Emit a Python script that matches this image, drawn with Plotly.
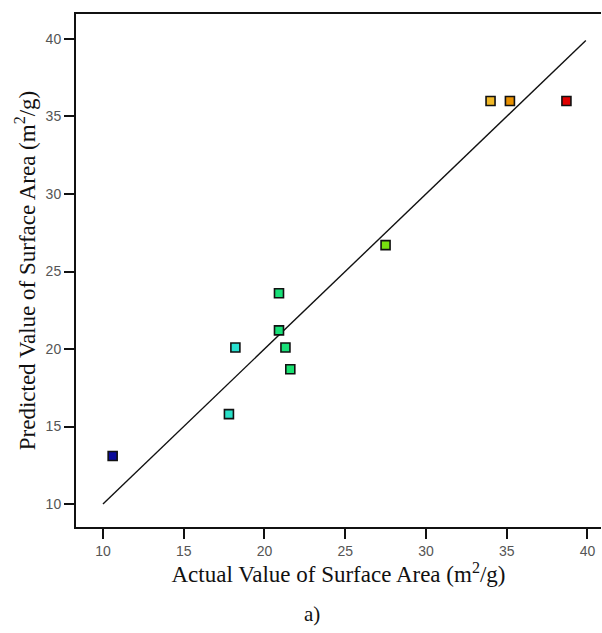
import plotly.graph_objects as go

# Actual vs predicted surface area (m2/g) for each run
actual = [10.6, 17.8, 18.2, 20.9, 20.9, 21.3, 21.6, 27.5, 34.0, 35.2, 38.7]
predicted = [13.1, 15.8, 20.1, 23.6, 21.2, 20.1, 18.7, 26.7, 36.0, 36.0, 36.0]
point_colors = ["#0a0a9a", "#28e0c8", "#28e0d0", "#18e078", "#18e078", "#18e078",
                "#18e070", "#78e010", "#f0b828", "#e89000", "#e00000"]

# Ideal fit line (predicted = actual)
fit_line = [10, 39.9]

x_ticks = [10, 15, 20, 25, 30, 35, 40]
y_ticks = [10, 15, 20, 25, 30, 35, 40]

fig = go.Figure()

fig.add_trace(go.Scatter(
    x=fit_line, y=fit_line, mode="lines",
    line=dict(color="#111111", width=1.4),
    showlegend=False, hoverinfo="skip",
))

fig.add_trace(go.Scatter(
    x=actual, y=predicted, mode="markers",
    marker=dict(symbol="square", size=9, color=point_colors,
                line=dict(color="#111111", width=1.6)),
    showlegend=False,
))

tick_font = dict(family="Liberation Sans Narrow, Arial Narrow, Liberation Sans, Arial",
                 size=14, color="#555555")
title_font = dict(family="Liberation Serif, Times New Roman, serif", size=23, color="#111111")

fig.update_xaxes(
    range=[8.33, 40.84], tickvals=x_ticks, ticks="outside", ticklen=10, tickwidth=2,
    tickcolor="#111111", showline=True, linecolor="#111111", linewidth=2, mirror=True,
    showgrid=False, zeroline=False, tickfont=tick_font,
    title=dict(text="Actual Value of Surface Area (m<sup>2</sup>/g)", font=title_font, standoff=4),
)
fig.update_yaxes(
    range=[8.52, 41.61], tickvals=y_ticks, ticks="outside", ticklen=10, tickwidth=2,
    tickcolor="#111111", showline=True, linecolor="#111111", linewidth=2, mirror=False,
    showgrid=False, zeroline=False, tickfont=tick_font,
    title=dict(text="Predicted Value of Surface Area (m<sup>2</sup>/g)", font=title_font, standoff=4),
)

fig.add_annotation(
    text="a)", xref="paper", yref="paper", x=0.45, y=-0.17,
    showarrow=False, font=dict(family="Liberation Serif, Times New Roman, serif", size=21, color="#111111"),
    xanchor="center", yanchor="middle",
)

fig.update_layout(
    width=602, height=633,
    margin=dict(l=76, r=1, t=14, b=106),
    plot_bgcolor="white", paper_bgcolor="white",
)

fig.write_html("out.html")
